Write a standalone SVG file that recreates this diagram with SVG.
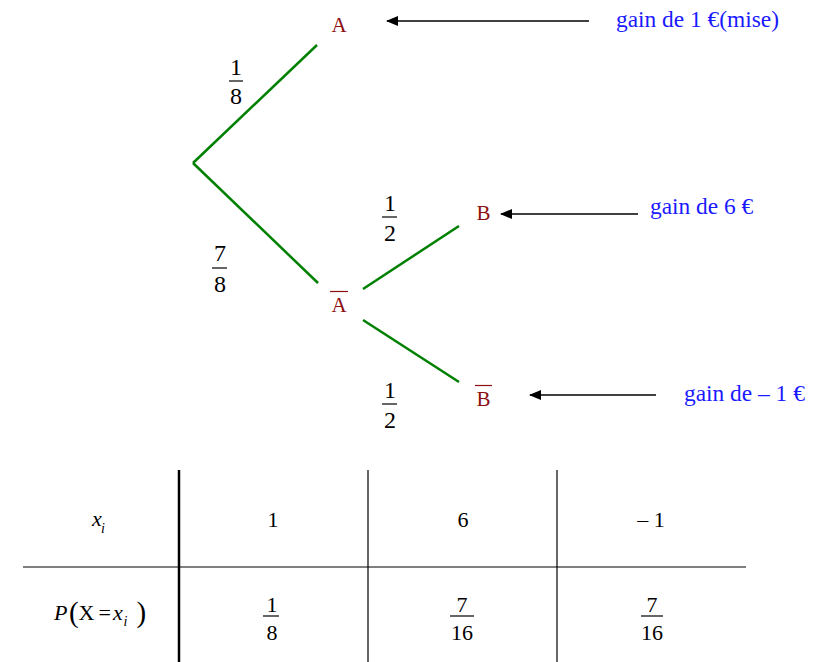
<svg xmlns="http://www.w3.org/2000/svg" width="828" height="662" viewBox="0 0 828 662">
<style>
text{font-family:"Liberation Serif","Times New Roman",serif;}
.lbl{font-size:21px;fill:#8b0f0f;text-anchor:middle;}
.gain{font-size:23.4px;fill:#1a1aff;}
.num{font-size:22px;fill:#000;text-anchor:middle;}
.fr{font-size:24px;fill:#000;text-anchor:middle;}
.it{font-style:italic;}
.branch{stroke:#008000;stroke-width:2.5;fill:none;}
.arr{stroke:#000;stroke-width:1.6;fill:none;marker-end:url(#ah);}
.bar{stroke:#000;stroke-width:1.2;}
.rbar{stroke:#8b0f0f;stroke-width:1.2;}
.grid{stroke:#000;stroke-width:1.2;}
</style>
<defs>
<marker id="ah" viewBox="0 0 12 10" refX="11" refY="5" markerWidth="12" markerHeight="10" markerUnits="userSpaceOnUse" orient="auto">
<path d="M0,0 L12,5 L0,10 Z" fill="#000"/>
</marker>
</defs>
<rect width="828" height="662" fill="#fff"/>
<g id="connectors">
<line class="branch" x1="193" y1="163" x2="317" y2="45"/>
<line class="branch" x1="193" y1="163" x2="318" y2="283"/>
<line class="branch" x1="363" y1="289" x2="459" y2="226"/>
<line class="branch" x1="363" y1="320" x2="459" y2="382"/>
<line class="arr" x1="589" y1="21" x2="387" y2="21"/>
<line class="arr" x1="638" y1="214" x2="501" y2="214"/>
<line class="arr" x1="656" y1="395" x2="530" y2="395"/>
</g>
<g id="node-A"><text class="lbl" x="339" y="32">A</text></g>
<g id="node-Abar"><line class="rbar" x1="330" y1="291.5" x2="348" y2="291.5"/><text class="lbl" x="339" y="312">A</text></g>
<g id="node-B"><text class="lbl" x="483.5" y="220">B</text></g>
<g id="node-Bbar"><line class="rbar" x1="475" y1="385.5" x2="492" y2="385.5"/><text class="lbl" x="483.5" y="406">B</text></g>
<g id="gain-A"><text class="gain" x="616" y="27">gain de 1 €(mise)</text></g>
<g id="gain-B"><text class="gain" x="650" y="214">gain de 6 €</text></g>
<g id="gain-Bbar"><text class="gain" x="684" y="401">gain de – 1 €</text></g>
<g id="p-A">
<text class="fr" x="236" y="75">1</text><line class="bar" x1="229" y1="81" x2="243" y2="81"/><text class="fr" x="236" y="104">8</text>
</g>
<g id="p-Abar">
<text class="fr" x="220" y="261">7</text><line class="bar" x1="212" y1="268" x2="227" y2="268"/><text class="fr" x="220" y="292">8</text>
</g>
<g id="p-B">
<text class="fr" x="390" y="211">1</text><line class="bar" x1="382" y1="217" x2="397" y2="217"/><text class="fr" x="390" y="241">2</text>
</g>
<g id="p-Bbar">
<text class="fr" x="390" y="398">1</text><line class="bar" x1="382" y1="404" x2="397" y2="404"/><text class="fr" x="390" y="428">2</text>
</g>
<g id="table">
<line x1="179" y1="470" x2="179" y2="662" stroke="#000" stroke-width="2.5"/>
<line class="grid" x1="368" y1="470" x2="368" y2="662"/>
<line class="grid" x1="557" y1="470" x2="557" y2="662"/>
<line class="grid" x1="23" y1="567" x2="746" y2="567"/>
<text x="92" y="526" style="font-size:22px" class="it">x</text><text x="101" y="533" style="font-size:14px" class="it">i</text>
<text class="num" x="273" y="527">1</text>
<text class="num" x="463" y="527">6</text>
<text class="num" x="651" y="527">– 1</text>
<text x="54" y="620" style="font-size:22px" class="it">P</text>
<text x="69" y="622" style="font-size:29px">(</text>
<text x="78.5" y="620" style="font-size:22px">X</text>
<text x="98.5" y="620" style="font-size:22px">=</text>
<text x="113" y="620" style="font-size:22px" class="it">x</text>
<text x="123.5" y="626" style="font-size:14px" class="it">i</text>
<text x="136.5" y="622" style="font-size:29px">)</text>
<text class="num" x="272" y="612">1</text><line class="bar" x1="263" y1="616" x2="279" y2="616"/><text class="num" x="272" y="640">8</text>
<text class="num" x="462" y="612">7</text><line class="bar" x1="450" y1="616" x2="474" y2="616"/><text class="num" x="462" y="640">16</text>
<text class="num" x="652" y="612">7</text><line class="bar" x1="641" y1="616" x2="663" y2="616"/><text class="num" x="652" y="640">16</text>
</g>
</svg>
